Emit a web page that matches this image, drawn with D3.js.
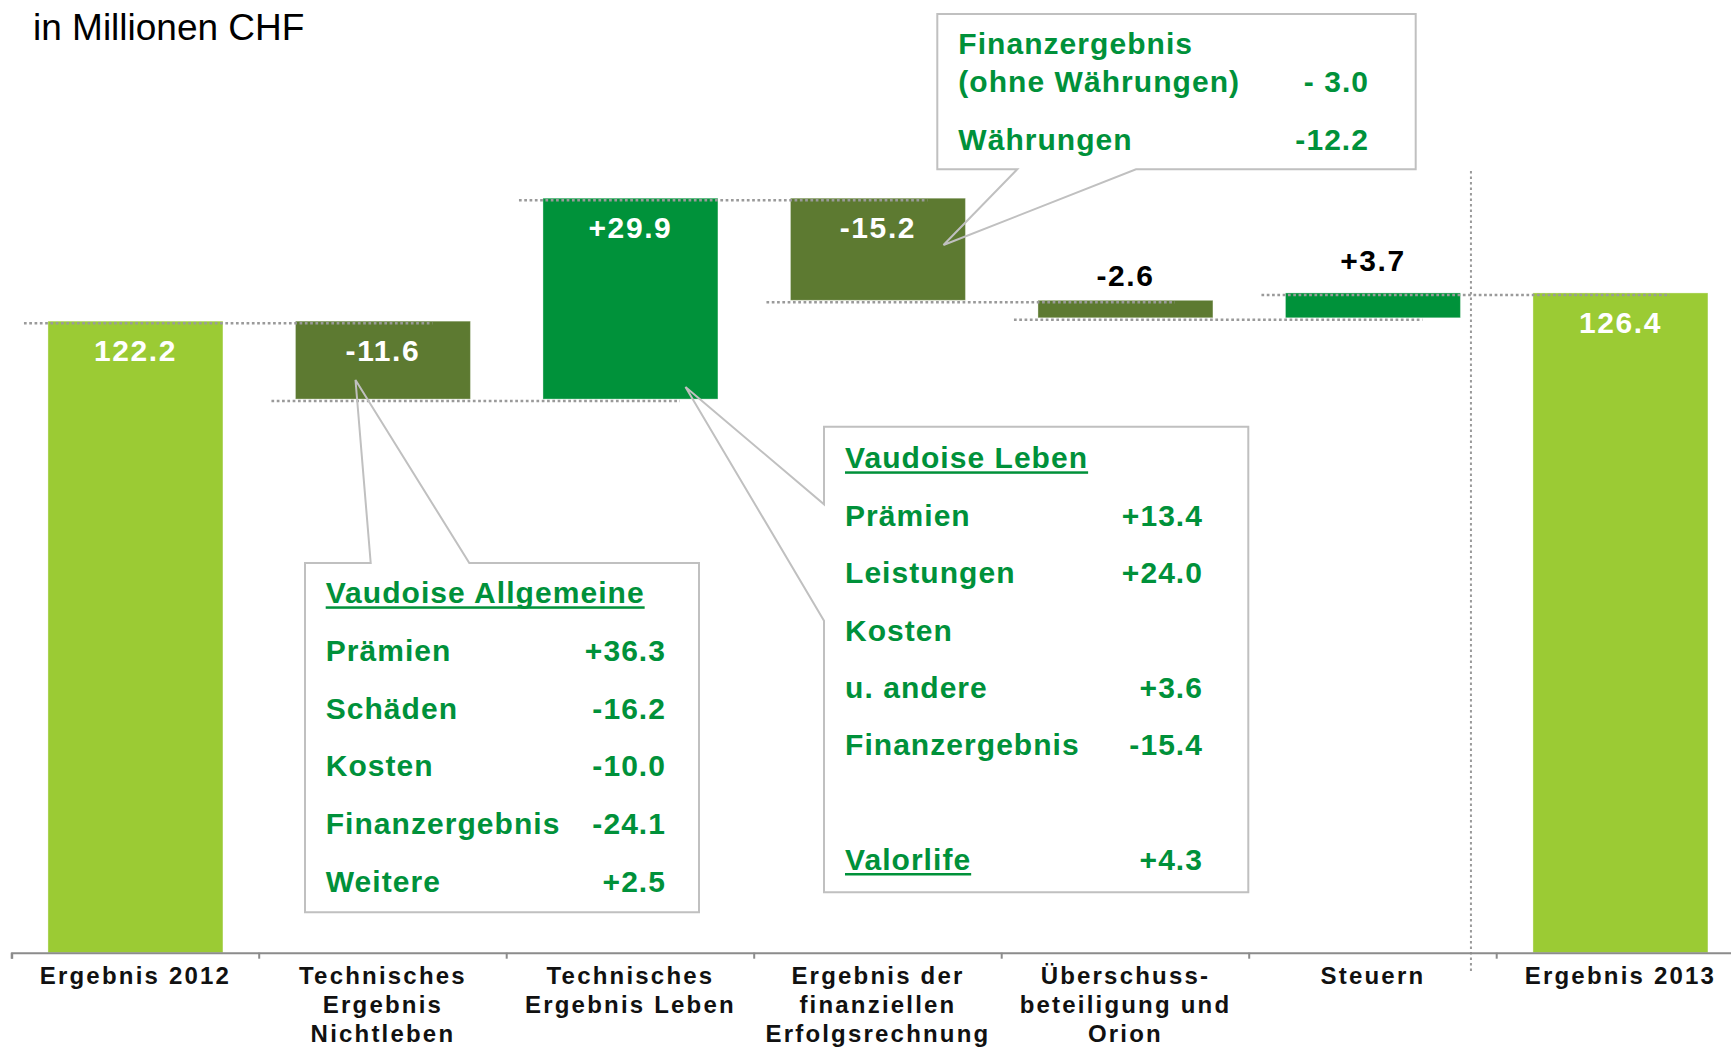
<!DOCTYPE html>
<html>
<head>
<meta charset="utf-8">
<script src="https://cdn.jsdelivr.net/npm/d3@7"></script>
<style>
html, body { margin:0; padding:0; background:#fff; }
svg { display:block; font-family:"Liberation Sans", Arial, sans-serif; }
</style>
</head>
<body>
<script>
// chart data
const categories = ["Ergebnis 2012", "Technisches Ergebnis Nichtleben", "Technisches Ergebnis Leben",
	"Ergebnis der finanziellen Erfolgsrechnung", "Überschussbeteiligung und Orion", "Steuern", "Ergebnis 2013"];
const labelLines = [
	["Ergebnis 2012"],
	["Technisches", "Ergebnis", "Nichtleben"],
	["Technisches", "Ergebnis Leben"],
	["Ergebnis der", "finanziellen", "Erfolgsrechnung"],
	["Überschuss-", "beteiligung und", "Orion"],
	["Steuern"],
	["Ergebnis 2013"]
];
const values = [122.2, -11.6, 29.9, -15.2, -2.6, 3.7, 126.4];
const barKinds = ["total", "delta", "delta", "delta", "delta", "delta", "total"];
const valueTexts = ["122.2", "-11.6", "+29.9", "-15.2", "-2.6", "+3.7", "126.4"];

// callout contents
const allgemeineTitle = "Vaudoise Allgemeine";
const allgemeineRows = [["Prämien", "+36.3"], ["Schäden", "-16.2"], ["Kosten", "-10.0"],
	["Finanzergebnis", "-24.1"], ["Weitere", "+2.5"]];
const lebenTitle = "Vaudoise Leben";
const lebenRows = [["Prämien", "+13.4"], ["Leistungen", "+24.0"], ["Kosten", ""],
	["u. andere", "+3.6"], ["Finanzergebnis", "-15.4"]];
const valorlifeRow = ["Valorlife", "+4.3"];
const finanzRows = [["Finanzergebnis", ""], ["(ohne Währungen)", "- 3.0"], ["Währungen", "-12.2"]];

const width = 1731, height = 1047;
const yMin = 28.2;
const colors = {total:"#9BCB34", neg:"#5D7A31", pos:"#00923A"};
const textGreen = "#00913A";
const lineGray = "#9a9a9a";

const svg = d3.select("body").append("svg")
	.attr("width", width)
	.attr("height", height);

const x = d3.scaleBand()
	.domain(categories)
	.range([11.7, 11.7 + 7 * 247.5])
	.paddingInner(0.293)
	.paddingOuter(0.1465);
const y = d3.scaleLinear()
	.domain([yMin, 170])
	.range([952.7, 0]);
const bw = x.bandwidth();

// waterfall steps
let run = 0;
const bars = categories.map(function(c, i){
	let lo, hi, kind;
	if(barKinds[i] === "total"){
		lo = yMin; hi = values[i]; run = values[i]; kind = "total";
	} else {
		const start = run;
		run = run + values[i];
		lo = Math.min(start, run); hi = Math.max(start, run);
		kind = values[i] < 0 ? "neg" : "pos";
	}
	return {cat:c, lo:lo, hi:hi, end:run, kind:kind, text:valueTexts[i], v:values[i]};
});

// title
svg.append("text")
	.attr("x", 33)
	.attr("y", 40)
	.attr("font-size", 37)
	.attr("fill", "#000")
	.text("in Millionen CHF");

// bars
svg.selectAll(".bar")
	.data(bars)
	.enter().append("rect")
		.attr("class", "bar")
		.attr("x", function(d){ return x(d.cat); })
		.attr("width", bw)
		.attr("y", function(d){ return y(d.hi); })
		.attr("height", function(d){ return y(d.lo) - y(d.hi); })
		.attr("fill", function(d){ return colors[d.kind]; })
		.attr("stroke", "rgba(255,255,255,0.35)")
		.attr("stroke-width", 1);

// dotted connectors
const links = bars.slice(0, -1).map(function(d, i){ return {a:d, b:bars[i + 1]}; });
svg.selectAll(".link")
	.data(links)
	.enter().append("line")
		.attr("class", "link")
		.attr("x1", function(d){ return x(d.a.cat) - 24; })
		.attr("x2", function(d){ return x(d.b.cat) + bw - 38; })
		.attr("y1", function(d){ return y(d.a.end) + 2; })
		.attr("y2", function(d){ return y(d.a.end) + 2; })
		.attr("stroke", lineGray)
		.attr("stroke-width", 2.5)
		.attr("stroke-dasharray", "2.7 2.6");

// vertical separator before the final result
const sepX = x("Steuern") + bw + 10.5;
svg.append("line")
	.attr("x1", sepX).attr("x2", sepX)
	.attr("y1", 171).attr("y2", 971)
	.attr("stroke", lineGray)
	.attr("stroke-width", 2)
	.attr("stroke-dasharray", "2.5 3");

// value labels
svg.selectAll(".val")
	.data(bars)
	.enter().append("text")
		.attr("class", "val")
		.attr("x", function(d){ return x(d.cat) + bw / 2; })
		.attr("y", function(d){
			if(Math.abs(d.v) < 5) return y(d.hi) - (d.v < 0 ? 14 : 22);
			return y(d.hi) + 40;
		})
		.attr("text-anchor", "middle")
		.attr("font-size", 30)
		.attr("font-weight", "bold")
		.attr("letter-spacing", 1.6)
		.attr("fill", function(d){ return Math.abs(d.v) < 5 ? "#000" : "#fff"; })
		.text(function(d){ return d.text; });

// x axis
const axisG = svg.append("g")
	.attr("class", "axis")
	.attr("transform", "translate(0," + y(yMin) + ")")
	.call(d3.axisBottom(x).tickValues([]).tickSizeOuter(6));
axisG.select(".domain")
	.attr("stroke", "#8c8c8c")
	.attr("stroke-width", 2);
axisG.selectAll(".sep")
	.data(categories)
	.enter().append("line")
		.attr("class", "sep")
		.attr("x1", function(c){ return x(c) - x.step() * x.paddingInner() / 2; })
		.attr("x2", function(c){ return x(c) - x.step() * x.paddingInner() / 2; })
		.attr("y1", 0).attr("y2", 6)
		.attr("stroke", "#8c8c8c")
		.attr("stroke-width", 2);

const lab = svg.selectAll(".xlab")
	.data(categories)
	.enter().append("text")
		.attr("class", "xlab")
		.attr("text-anchor", "middle")
		.attr("font-size", 24)
		.attr("font-weight", "bold")
		.attr("letter-spacing", 2.2)
		.attr("fill", "#111");
lab.each(function(c, i){
	const t = d3.select(this);
	labelLines[i].forEach(function(line, j){
		t.append("tspan")
			.attr("x", x(c) + bw / 2)
			.attr("y", 984.3 + j * 28.6)
			.text(line);
	});
});

// callouts
function callout(box, outline, rows, opts){
	const g = svg.append("g");
	g.append("rect")
		.attr("x", box[0]).attr("y", box[1])
		.attr("width", box[2] - box[0]).attr("height", box[3] - box[1])
		.attr("fill", "#fff");
	g.append("path")
		.attr("d", d3.line()(outline) + "Z")
		.attr("fill", "none")
		.attr("stroke", "#c0c0c0")
		.attr("stroke-width", 2);
	rows.forEach(function(r){
		const t = g.append("text")
			.attr("x", opts.left)
			.attr("y", r.y)
			.attr("font-size", 30)
			.attr("font-weight", "bold")
			.attr("letter-spacing", 1.05)
			.attr("fill", textGreen)
			.text(r.label);
		if(r.under){
			const len = t.node().getComputedTextLength();
			g.append("rect")
				.attr("x", opts.left)
				.attr("y", r.y + 3)
				.attr("width", len)
				.attr("height", 2.5)
				.attr("fill", textGreen);
		}
		if(r.value){
			g.append("text")
				.attr("x", opts.right)
				.attr("y", r.y)
				.attr("text-anchor", "end")
				.attr("font-size", 30)
				.attr("font-weight", "bold")
				.attr("letter-spacing", 1.05)
				.attr("fill", textGreen)
				.text(r.value);
		}
	});
}

// Vaudoise Allgemeine box (tail up into the Nichtleben bar)
const rowsA = [{label:allgemeineTitle, y:603.3, under:true}]
	.concat(allgemeineRows.map(function(r, i){ return {label:r[0], value:r[1], y:603.3 + (i + 1) * 57.7}; }));
callout([305, 563, 699, 912.3],
	[[305, 563], [370.7, 563], [355.5, 380], [469.3, 563], [699, 563], [699, 912.3], [305, 912.3]],
	rowsA, {left:325.7, right:666});

// Vaudoise Leben box (tail left into the Leben bar)
const rowsL = [{label:lebenTitle, y:468.3, under:true}]
	.concat(lebenRows.map(function(r, i){ return {label:r[0], value:r[1], y:468.3 + (i + 1) * 57.4}; }))
	.concat([{label:valorlifeRow[0], value:valorlifeRow[1], y:870, under:true}]);
callout([824, 426.7, 1248.3, 892.3],
	[[824, 426.7], [1248.3, 426.7], [1248.3, 892.3], [824, 892.3], [824, 620.7], [685.5, 387], [824, 504.3]],
	rowsL, {left:845, right:1203});

// Finanzergebnis box (tail down into the finance bar)
const finanzY = [54.3, 91.7, 150];
const rowsF = finanzRows.map(function(r, i){ return {label:r[0], value:r[1], y:finanzY[i]}; });
callout([937.3, 14, 1415.7, 169.3],
	[[937.3, 14], [1415.7, 14], [1415.7, 169.3], [1136, 169.3], [943.5, 245], [1017.3, 169.3], [937.3, 169.3]],
	rowsF, {left:958.3, right:1369});
</script>
</body>
</html>
